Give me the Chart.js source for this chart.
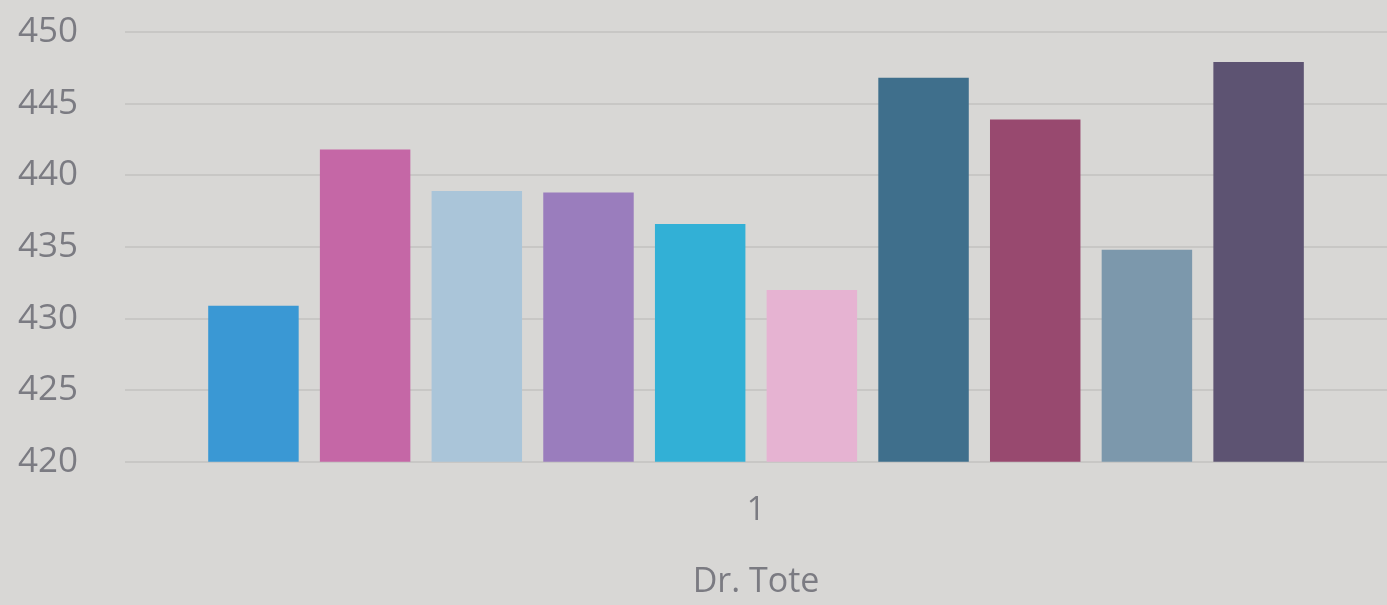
<!DOCTYPE html>
<html>
<head>
<meta charset="utf-8">
<script src="https://cdn.jsdelivr.net/npm/chart.js@4"></script>
<style>
  html, body { margin: 0; padding: 0; background: #d8d7d5; }
  #wrap { width: 1387px; height: 605px; overflow: hidden; }
</style>
</head>
<body>
<div id="wrap"><canvas id="chart"></canvas></div>
<script>
// one category, ten series (each a single bar)
const categories = ['1'];
const seriesValues = [430.9, 441.8, 438.9, 438.8, 436.6, 432.0, 446.8, 443.9, 434.8, 447.9];
const seriesColors = ['#3a98d4', '#c567a6', '#aac5d9', '#9a7dbd', '#32b0d6',
                      '#e6b3d2', '#3f6f8c', '#98496f', '#7c98ac', '#5d5372'];
const yTicks = [420, 425, 430, 435, 440, 445, 450];
const xTitle = 'Dr. Tote';

const textColor = '#7b7b82';

const datasets = seriesValues.map(function (v, i) {
    return {
        label: 'Series ' + (i + 1),
        data: [v],
        backgroundColor: seriesColors[i],
        borderWidth: 0,
        categoryPercentage: 0.885,
        barPercentage: 0.81
    };
});

new Chart(document.getElementById('chart'), {
    type: 'bar',
    data: { labels: categories, datasets: datasets },
    options: {
        responsive: true,
        maintainAspectRatio: false,
        animation: false,
        layout: { padding: { left: -29, right: 0, top: 0, bottom: 2 } },
        plugins: {
            legend: { display: false },
            tooltip: { enabled: false }
        },
        scales: {
            x: {
                grid: { display: false },
                border: { display: false },
                ticks: {
                    color: textColor,
                    font: { family: 'Open Sans', size: 32 },
                    padding: 22
                },
                title: {
                    display: true,
                    text: xTitle,
                    color: textColor,
                    font: { family: 'Open Sans', size: 34 },
                    padding: { top: 10, bottom: 0 }
                }
            },
            y: {
                min: yTicks[0],
                max: yTicks[yTicks.length - 1],
                afterBuildTicks: function (axis) {
                    axis.ticks = yTicks.map(function (v) { return { value: v }; });
                },
                // keep the 450 line close to the top edge
                afterFit: function (axis) {
                    axis.paddingTop = 32;
                },
                grid: { color: '#c8c7c5', lineWidth: 2, drawTicks: false },
                border: { display: false },
                ticks: {
                    color: textColor,
                    font: { family: 'Open Sans', size: 35 },
                    padding: 47
                }
            }
        }
    }
});
</script>
</body>
</html>
